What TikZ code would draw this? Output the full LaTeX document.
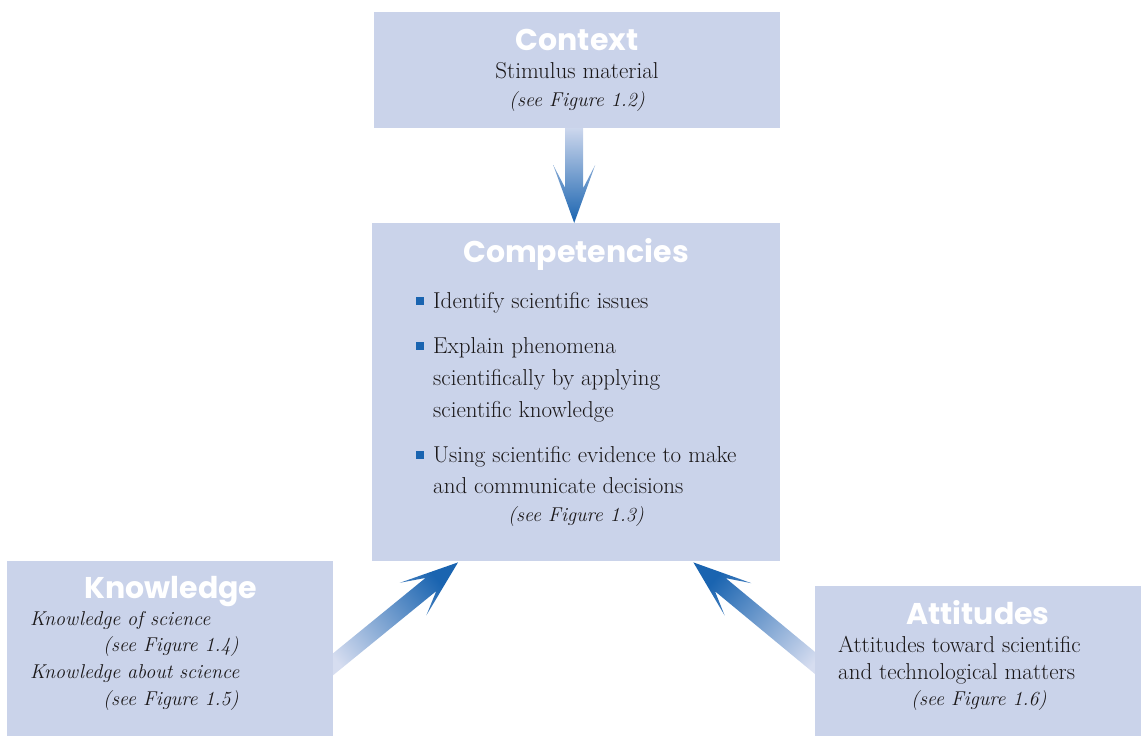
\documentclass[tikz,border=0pt]{standalone}
\usepackage{fontspec}
\newfontfamily\titlefont{Poppins}
\usetikzlibrary{backgrounds,calc}
\definecolor{boxfill}{HTML}{CAD3EA}
\definecolor{arrdark}{HTML}{1A64B0}
\definecolor{arrlight}{HTML}{D6DDF0}
\definecolor{txt}{HTML}{1A1718}
\tikzset{
  box/.style={fill=boxfill, draw=none, inner sep=0pt, anchor=north west},
  title/.style={font=\titlefont\bfseries\fontsize{30}{30}\selectfont, text=white, anchor=base, inner sep=0pt},
  body/.style={font=\fontsize{23}{23}\selectfont, text=txt, anchor=base west, inner sep=0pt},
  bodyc/.style={font=\fontsize{23}{23}\selectfont, text=txt, anchor=base, inner sep=0pt},
  ital/.style={font=\fontsize{20}{20}\selectfont\itshape, text=txt, anchor=base west, inner sep=0pt},
  italc/.style={font=\fontsize{20}{20}\selectfont\itshape, text=txt, anchor=base, inner sep=0pt},
  bullet/.style={fill=arrdark, minimum size=8pt, inner sep=0pt, anchor=north west},
  fatarrow/.style={top color=arrdark, bottom color=arrlight}
}
\begin{document}
\begin{tikzpicture}[x=1pt,y=-1pt]
\useasboundingbox (0,0) rectangle (1141,736);
% boxes
\node[box, minimum width=406pt, minimum height=116pt] (context) at (374,12) {};
\node[box, minimum width=408pt, minimum height=338pt] (comp) at (372,223) {};
\node[box, minimum width=326pt, minimum height=175pt] (know) at (7,561) {};
\node[box, minimum width=326pt, minimum height=150pt] (att) at (815,586) {};
% context text
\node[title] (ctxT) at (577,50) {Context};
\node[bodyc] (ctx1) at (577,78) {Stimulus material};
\node[italc] (ctx2) at (577,106) {(see Figure 1.2)};
% competencies text
\node[title] (compT) at (576,262) {Competencies};
\node[bullet] (b1) at (416,297) {};
\node[body] (c1) at (433,308) {Identify scientific issues};
\node[bullet] (b2) at (416,342) {};
\node[body] (c2) at (433,353) {Explain phenomena};
\node[body] (c3) at (433,385) {scientifically by applying};
\node[body] (c4) at (433,417) {scientific knowledge};
\node[bullet] (b3) at (416,451) {};
\node[body] (c5) at (433,462) {Using scientific evidence to make};
\node[body] (c6) at (433,493) {and communicate decisions};
\node[italc] (c7) at (576,521) {(see Figure 1.3)};
% knowledge text
\node[title] (knowT) at (171,598) {Knowledge};
\node[ital] (k1) at (30,625) {Knowledge of science};
\node[ital] (k2) at (103,651) {(see Figure 1.4)};
\node[ital] (k3) at (30,678) {Knowledge about science};
\node[ital] (k4) at (103,705) {(see Figure 1.5)};
% attitudes text
\node[title] (attT) at (978,624) {Attitudes};
\node[body] (a1) at (838,652) {Attitudes toward scientific};
\node[body] (a2) at (838,679) {and technological matters};
\node[ital] (a3) at (911,705) {(see Figure 1.6)};
% arrows
\begin{pgfonlayer}{background}
\begin{scope}[shift={($(comp.north)+(-2,0)$)}, rotate=-90]
  \shade[top color=arrlight, bottom color=arrdark] (0,0) -- (-58,21) -- (-35,9) -- (-100,9) -- (-100,-9) -- (-35,-9) -- (-58,-21) -- cycle;
\end{scope}
\begin{scope}[shift={($(comp.south west)+(86,1)$)}, rotate=39.2]
  \shade[fatarrow, shading angle=-51] (0,0) -- (-58,21) -- (-35,8.5) -- (-175,8.5) -- (-175,-8.5) -- (-35,-8.5) -- (-58,-21) -- cycle;
\end{scope}
\begin{scope}[shift={($(comp.south east)+(-87,1)$)}, rotate=140.4]
  \shade[fatarrow, shading angle=50] (0,0) -- (-58,21) -- (-35,8.5) -- (-175,8.5) -- (-175,-8.5) -- (-35,-8.5) -- (-58,-21) -- cycle;
\end{scope}
\end{pgfonlayer}
\end{tikzpicture}
\end{document}
